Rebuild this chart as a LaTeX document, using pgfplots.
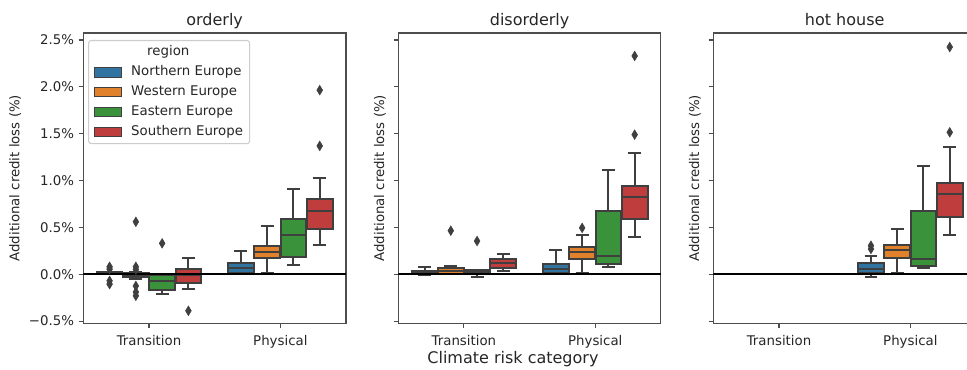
\documentclass[border=0pt]{standalone}
\usepackage{fontspec}
\setmainfont{DejaVu Sans}
\usepackage{pgfplots}
\pgfplotsset{compat=1.18}
\usepgfplotslibrary{statistics}
\definecolor{cN}{HTML}{3274A1}
\definecolor{cW}{HTML}{E1812C}
\definecolor{cE}{HTML}{3A923A}
\definecolor{cS}{HTML}{C03D3E}
\definecolor{edge}{HTML}{3F3F3F}
\definecolor{txt}{HTML}{262626}
\definecolor{spine}{HTML}{4D4D4D}
\pgfplotsset{
  bxs/.style={line width=1.5pt, draw=edge, solid, forget plot,
    /pgfplots/boxplot/draw direction=y,
    /pgfplots/boxplot/box extend=0.196, /pgfplots/boxplot/whisker extend=0.098,
    mark=diamond*, mark size=3.6pt,
    mark options={solid, fill=edge, draw=edge, xscale=0.8, line width=0.4pt}},
  panel/.style={
    scale only axis, width=197pt, height=217.7pt, anchor=south west,
    xmin=-0.5, xmax=1.5, ymin=-0.523, ymax=2.575,
    xtick={0,1}, xticklabels={Transition,Physical},
    ytick={-0.5,0,0.5,1,1.5,2,2.5},
    tick pos=left, tick align=outside, major tick length=3.5pt,
    axis line style={spine, line width=0.8pt},
    every tick/.style={spine, line width=0.8pt},
    tick label style={font=\fontsize{10}{12}\selectfont, text=txt},
    xticklabel style={yshift=-2pt},
    /pgf/number format/assume math mode=true,
    every axis title shift=0pt,
    title style={font=\fontsize{12}{14}\selectfont, text=txt, at={(axis description cs:0.5,1)}, anchor=base, yshift=6pt},
    ylabel={Additional credit loss (\%)},
    ylabel style={font=\fontsize{10}{12}\selectfont, text=txt, anchor=center},
  },
}
\newcommand{\bp}[8]{\addplot[bxs, fill=#2, boxplot prepared={draw position=#1, lower whisker=#3, lower quartile=#4, median=#5, upper quartile=#6, upper whisker=#7}] #8;}
\begin{document}
\begin{tikzpicture}
\useasboundingbox (0,0) rectangle (725.25pt,276.75pt);
\clip (0,0) rectangle (725.25pt,276.75pt);
% ---------------- orderly ----------------
\begin{axis}[panel, at={(62.5pt,34.3pt)}, title={orderly},
  yticklabels={−0.5\%,0.0\%,0.5\%,1.0\%,1.5\%,2.0\%,2.5\%},
  ylabel style={at={(axis description cs:-0.259,0.5)}},
  legend cell align=left,
  legend style={at={(0.018,0.976)}, anchor=north west, draw=black!20, line width=0.8pt,
    rounded corners=2pt, fill=white,
    font=\fontsize{10}{12}\selectfont, text=txt, inner xsep=4pt, inner ysep=3pt,
    row sep=2.85pt, column sep=6pt,
    nodes={inner sep=1pt, text height=7.5pt, text depth=2.5pt, anchor=west}},
  legend image code/.code={\draw[#1, line width=0.7pt, rounded corners=0pt] (0pt,-3.5pt) rectangle (20.25pt,3.5pt);},
]
\addlegendimage{empty legend}\addlegendentry{\hspace*{12pt}region}
\addlegendimage{fill=cN, draw=edge}\addlegendentry{Northern Europe}
\addlegendimage{fill=cW, draw=edge}\addlegendentry{Western Europe}
\addlegendimage{fill=cE, draw=edge}\addlegendentry{Eastern Europe}
\addlegendimage{fill=cS, draw=edge}\addlegendentry{Southern Europe}
\bp{-0.3}{cN}{0}{0.005}{0.012}{0.02}{0.025}{table[row sep=\\,y index=0]{0.08\\0.055\\-0.07\\-0.105\\}}
\bp{-0.1}{cW}{-0.05}{-0.025}{-0.005}{0.01}{0.02}{table[row sep=\\,y index=0]{0.56\\0.08\\0.05\\-0.125\\-0.19\\-0.23\\}}
\bp{0.1}{cE}{-0.21}{-0.17}{-0.072}{-0.01}{0}{table[row sep=\\,y index=0]{0.33\\}}
\bp{0.3}{cS}{-0.16}{-0.095}{-0.01}{0.055}{0.17}{table[row sep=\\,y index=0]{-0.39\\}}
\bp{0.7}{cN}{0.005}{0.015}{0.07}{0.115}{0.245}{coordinates {}}
\bp{0.9}{cW}{0.015}{0.17}{0.235}{0.305}{0.515}{coordinates {}}
\bp{1.1}{cE}{0.1}{0.18}{0.415}{0.595}{0.91}{coordinates {}}
\bp{1.3}{cS}{0.315}{0.485}{0.67}{0.8}{1.03}{table[row sep=\\,y index=0]{1.37\\1.965\\}}
\addplot[black, line width=1.6pt, forget plot] coordinates {(-0.5,0) (1.5,0)};
\end{axis}
% ---------------- disorderly ----------------
\begin{axis}[panel, at={(298.7pt,34.3pt)}, title={disorderly},
  yticklabels={},
  ylabel style={at={(axis description cs:-0.0697,0.5)}},
  xlabel={Climate risk category},
  xlabel style={font=\fontsize{12}{14}\selectfont, text=txt, at={(axis description cs:0.4366,0)}, anchor=base, yshift=-30pt},
]
\bp{-0.3}{cN}{-0.005}{0}{0.01}{0.035}{0.075}{coordinates {}}
\bp{-0.1}{cW}{0}{0.005}{0.035}{0.065}{0.09}{table[row sep=\\,y index=0]{0.465\\}}
\bp{0.1}{cE}{-0.03}{0.005}{0.02}{0.045}{0.05}{table[row sep=\\,y index=0]{0.355\\}}
\bp{0.3}{cS}{0.035}{0.07}{0.12}{0.165}{0.22}{coordinates {}}
\bp{0.7}{cN}{0}{0.01}{0.055}{0.11}{0.26}{coordinates {}}
\bp{0.9}{cW}{0.015}{0.165}{0.24}{0.295}{0.415}{table[row sep=\\,y index=0]{0.495\\}}
\bp{1.1}{cE}{0.08}{0.11}{0.2}{0.67}{1.11}{coordinates {}}
\bp{1.3}{cS}{0.4}{0.585}{0.83}{0.945}{1.295}{table[row sep=\\,y index=0]{1.49\\2.33\\}}
\addplot[black, line width=1.6pt, forget plot] coordinates {(-0.5,0) (1.5,0)};
\end{axis}
% ---------------- hot house ----------------
\begin{axis}[panel, at={(535pt,34.3pt)}, title={hot house},
  yticklabels={},
  ylabel style={at={(axis description cs:-0.0697,0.5)}},
]
\bp{-0.3}{cN}{0}{0}{0}{0}{0}{coordinates {}}
\bp{-0.1}{cW}{0}{0}{0}{0}{0}{coordinates {}}
\bp{0.1}{cE}{0}{0}{0}{0}{0}{coordinates {}}
\bp{0.3}{cS}{0}{0}{0}{0}{0}{coordinates {}}
\bp{0.7}{cN}{-0.03}{0.01}{0.06}{0.115}{0.2}{table[row sep=\\,y index=0]{0.27\\0.305\\}}
\bp{0.9}{cW}{0.015}{0.17}{0.255}{0.315}{0.485}{coordinates {}}
\bp{1.1}{cE}{0.07}{0.085}{0.165}{0.672}{1.16}{coordinates {}}
\bp{1.3}{cS}{0.415}{0.615}{0.86}{0.972}{1.36}{table[row sep=\\,y index=0]{1.515\\2.425\\}}
\addplot[black, line width=1.6pt, forget plot] coordinates {(-0.5,0) (1.5,0)};
\end{axis}
\end{tikzpicture}
\end{document}
